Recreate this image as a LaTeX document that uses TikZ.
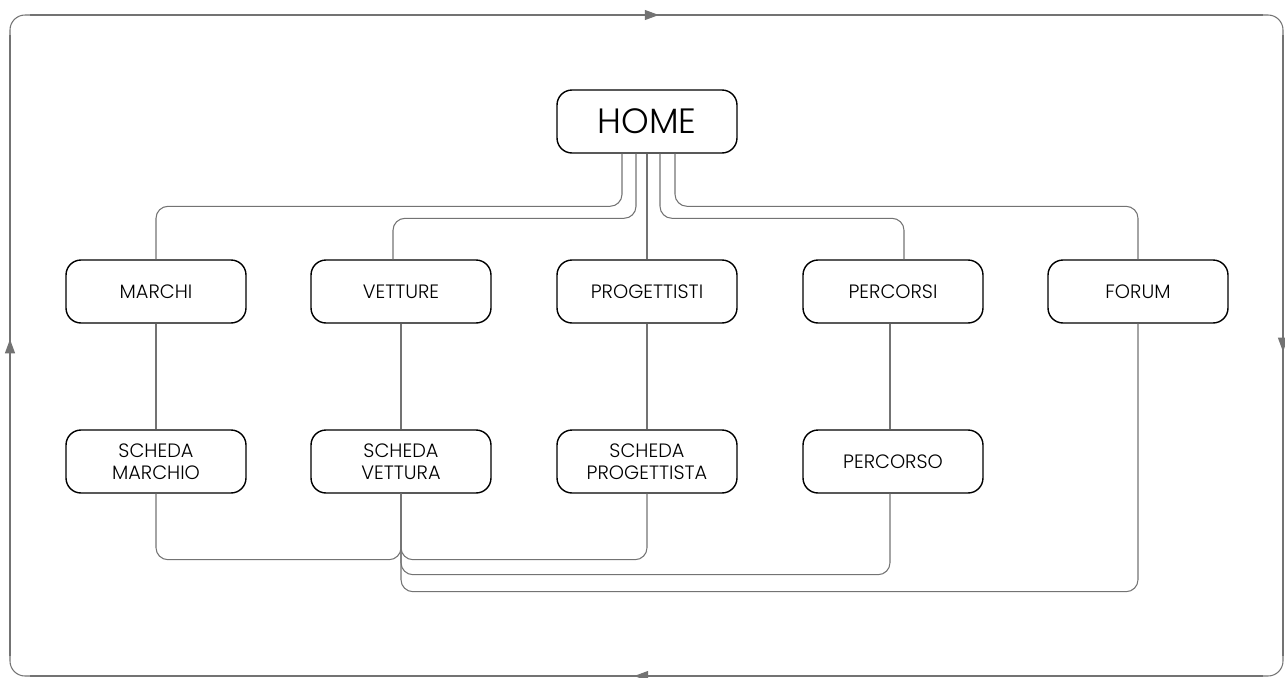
\documentclass[tikz,border=0pt]{standalone}
\usepackage{fontspec}
\setmainfont{Poppins}[UprightFont=* Light]
\usetikzlibrary{positioning,calc,arrows.meta,decorations.markings}

\tikzset{
	box/.style={draw=black, line width=0.8pt, rounded corners=0.3cm,
		minimum width=3.6cm, minimum height=1.26cm, inner sep=0pt,
		align=center, font=\fontsize{11}{12.5}\selectfont},
	link/.style={color=black!55, line width=0.6pt, rounded corners=0.24cm},
	midarrow/.style={postaction={decorate}, decoration={markings,
		mark=at position 0.51 with {\arrow{Triangle[length=0.28cm,width=0.2cm]}}}}
}
\newcommand{\mypage}[4][]{
	\node [box] (#1) at (#2, #3) {#4};
}
\newcommand{\wlink}[3][]{
	% straight link between two pages
	\path [draw, link, #1] (#2) -- (#3);
}

\begin{document}
\begin{tikzpicture}[x=0.02cm, y=-0.02cm]
	\useasboundingbox (0,0) rectangle (1285,677);

	% outer loop
	\coordinate (fnw) at (10,15);
	\coordinate (fne) at (1283,15);
	\coordinate (fse) at (1283,676);
	\coordinate (fsw) at (10,676);
	\draw [link, rounded corners=0.3cm] (fnw) rectangle (fse);
	\draw [link, midarrow] ($(fnw)+(20,0)$) -- ($(fne)+(-20,0)$);
	\draw [link, midarrow] ($(fne)+(0,20)$) -- ($(fse)+(0,-20)$);
	\draw [link, midarrow] ($(fse)+(-20,0)$) -- ($(fsw)+(20,0)$);
	\draw [link, midarrow] ($(fsw)+(0,-20)$) -- ($(fnw)+(0,20)$);

	% pages
	\node [box, font=\fontsize{20}{22}\selectfont] (home) at (647,121.5) {HOME};
	\mypage[marchi]{156}{291.5}{MARCHI}
	\mypage[vetture]{401}{291.5}{VETTURE}
	\mypage[progettisti]{647}{291.5}{PROGETTISTI}
	\mypage[percorsi]{893}{291.5}{PERCORSI}
	\mypage[forum]{1138}{291.5}{FORUM}
	\mypage[smarchio]{156}{461.5}{SCHEDA\\MARCHIO}
	\mypage[svettura]{401}{461.5}{SCHEDA\\VETTURA}
	\mypage[sprogettista]{647}{461.5}{SCHEDA\\PROGETTISTA}
	\mypage[percorso]{893}{461.5}{PERCORSO}

	% home to sections
	\draw [link] ($(home.south)+(-25,0)$) |- ($(marchi.north)+(0,-53)$) -- (marchi.north);
	\draw [link] ($(home.south)+(-11,0)$) |- ($(vetture.north)+(-8,-41)$) -- ($(vetture.north)+(-8,0)$);
	\wlink{home}{progettisti}
	\draw [link] ($(home.south)+(13,0)$) |- ($(percorsi.north)+(11,-41)$) -- ($(percorsi.north)+(11,0)$);
	\draw [link] ($(home.south)+(28,0)$) |- ($(forum.north)+(0,-53)$) -- (forum.north);

	% sections to details
	\wlink{marchi}{smarchio}
	\wlink{vetture}{svettura}
	\wlink{progettisti}{sprogettista}
	\draw [link] ($(percorsi.south)+(-3,0)$) -- ($(percorso.north)+(-3,0)$);

	% bottom links
	\draw [link] (smarchio.south) -- ++(0,66) -| (svettura.south);
	\draw [link] (svettura.south) -- ++(0,66) -| (sprogettista.south);
	\draw [link] (svettura.south) -- ++(0,81) -| ($(percorso.south)+(-3,0)$);
	\draw [link] (svettura.south) -- ++(0,98) -| (forum.south);
\end{tikzpicture}
\end{document}
